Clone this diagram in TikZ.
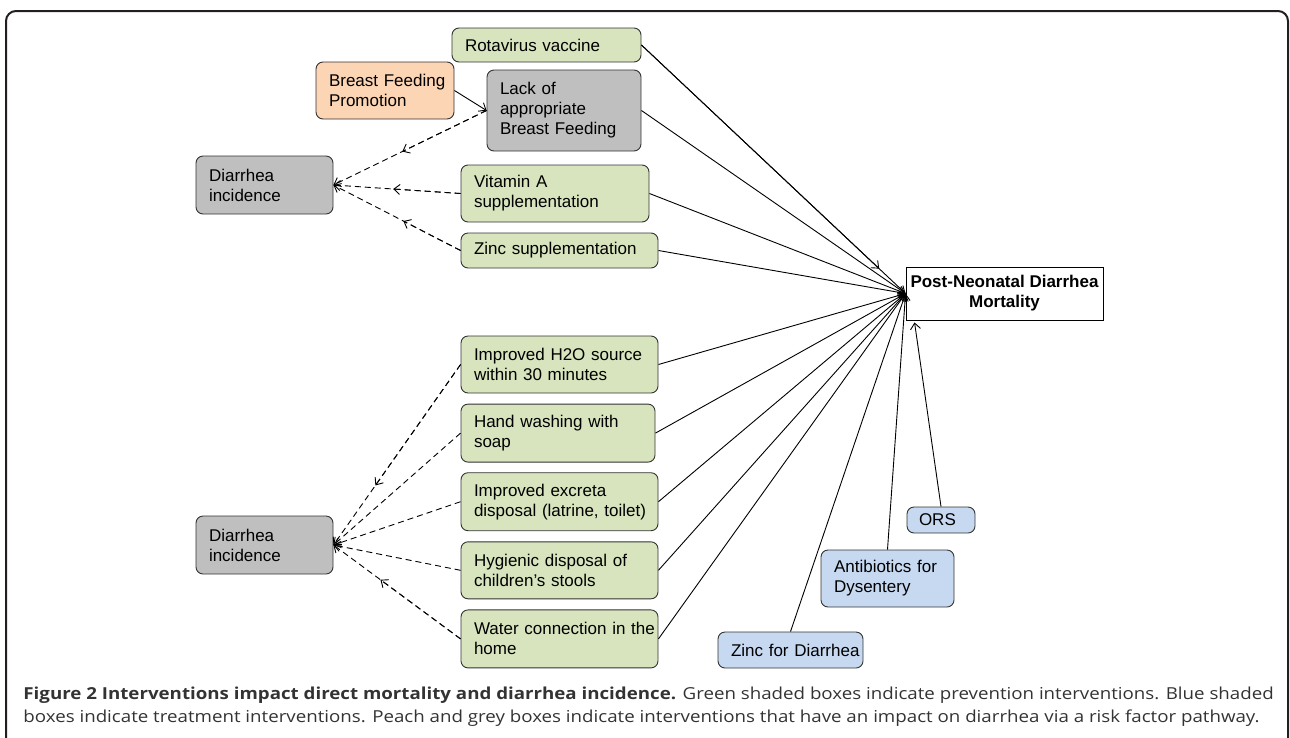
\documentclass[tikz,border=0pt]{standalone}
\usepackage{fontspec}
\setmainfont{Liberation Sans}
\newfontfamily\capfont{Open Sans}
\usetikzlibrary{arrows.meta}
\definecolor{prevc}{HTML}{D7E4BD}
\definecolor{treatc}{HTML}{C6D9F1}
\definecolor{riskc}{HTML}{FCD5B5}
\definecolor{greyc}{HTML}{BFBFBF}
\definecolor{framec}{HTML}{231F20}

\begin{document}
\begin{tikzpicture}[x=1pt, y=-1pt, line width=0.9pt, >={Straight Barb[length=6pt,width=10pt]},
  box/.style={draw=black!80, rounded corners=7pt, align=left, inner xsep=13pt, inner ysep=0pt, font=\fontsize{17}{20}\selectfont},
  prev/.style={box, fill=prevc},
  treat/.style={box, fill=treatc},
  risk/.style={box, fill=riskc},
  grey/.style={box, fill=greyc},
  dep/.style={dash pattern=on 6pt off 4pt},
  capline/.style={anchor=base west, inner sep=0pt, text=black!80, font=\capfont\fontsize{16.5}{18}\selectfont}]

    \useasboundingbox (0,0) rectangle (1290,737);
    \draw[framec, line width=2pt, rounded corners=10pt] (6,11) rectangle (1288,780);

    \node[draw, fill=white, align=center, minimum width=197pt, minimum height=53pt, inner sep=0pt, font=\fontsize{17}{20}\selectfont\bfseries] (post) at (1004.5,293.5) {Post-Neonatal Diarrhea\\Mortality};

    \node[grey, text width=111pt, minimum height=58pt] (dtop) at (264.5,185) {Diarrhea\\incidence};
    \node[grey, text width=111pt, minimum height=58pt, below of=dtop, node distance=360pt] (dbot) {Diarrhea\\incidence};

    \node[prev, text width=163pt, minimum height=34pt] (rota) at (546.5,45) {Rotavirus vaccine};
    \node[grey, text width=128pt, minimum height=81pt] (lack) at (564,110.5) {Lack of\\appropriate\\Breast Feeding};
    \node[risk, text width=112pt, minimum height=57pt, left of=lack, node distance=179pt, yshift=20pt] (bfp) {\mbox{Breast Feeding}\\Promotion};
    \node[prev, text width=162pt, minimum height=57pt] (vita) at (555,193.5) {Vitamin A\\supplementation};
    \node[prev, text width=171pt, minimum height=35pt] (zincs) at (559.5,250.5) {Zinc supplementation};

    \node[prev, text width=171pt, minimum height=57pt] (h2o) at (559.5,364.5) {Improved H2O source\\within 30 minutes};
    \node[prev, text width=168pt, minimum height=58pt, below of=h2o, node distance=68.6pt, xshift=-1.5pt] (hand) {Hand washing with\\soap};
    \node[prev, text width=171pt, minimum height=58pt, below of=h2o, node distance=137.2pt] (excr) {Improved excreta\\\mbox{disposal (latrine, toilet)}};
    \node[prev, text width=171pt, minimum height=57pt, below of=excr, node distance=68.6pt] (hyg) {Hygienic disposal of\\children’s stools};
    \node[prev, text width=171pt, minimum height=58pt, below of=hyg, node distance=68.6pt] (water) {\mbox{Water connection in the}\\home};

    \node[treat, text width=44pt, minimum height=26pt, inner xsep=12pt] (ors) at (941,520) {ORS};
    \node[treat, text width=107pt, minimum height=57pt] (abx) at (887.5,578.5) {Antibiotics for\\Dysentery};
    \node[treat, text width=119pt, minimum height=36pt] (zincd) at (790.5,650) {\mbox{Zinc for Diarrhea}};
    \coordinate (orsin) at ([xshift=9pt, yshift=-2pt]post.south west);

    % pathway via risk factor
    \draw[->] (bfp.east) -- (lack.west);
    \draw[dep, ->] (lack.west) -- node[coordinate, pos=0.55] (m1) {} (dtop.east);
    \draw[dep, ->] (lack.west) -- (m1);
    \draw[dep, ->] (vita.west) -- node[coordinate, pos=0.53] (m2) {} (dtop.east);
    \draw[dep, ->] (vita.west) -- (m2);
    \draw[dep, ->] (zincs.west) -- node[coordinate, pos=0.45] (m3) {} (dtop.east);
    \draw[dep, ->] (zincs.west) -- (m3);
    \draw[dep, ->] (h2o.west) -- node[coordinate, pos=0.67] (m4) {} (dbot.east);
    \draw[dep, ->] (h2o.west) -- (m4);
    \draw[dep, ->] (hand.west) -- (dbot.east);
    \draw[dep, ->] (excr.west) -- (dbot.east);
    \draw[dep, ->] (hyg.west) -- (dbot.east);
    \draw[dep, ->] (water.west) -- node[coordinate, pos=0.63] (m5) {} (dbot.east);
    \draw[dep, ->] (water.west) -- (m5);

    % direct effect on mortality
    \draw (rota.east) -- node[coordinate, pos=0.9] (m0) {} (post.west);
    \draw[->] (rota.east) -- (m0);
    \draw[->] (lack.east) -- (post.west);
    \draw[->] (vita.east) -- (post.west);
    \draw[->] (zincs.east) -- (post.west);
    \draw[->] (h2o.east) -- (post.west);
    \draw[->] (hand.east) -- (post.west);
    \draw[->] (excr.east) -- (post.west);
    \draw[->] (hyg.east) -- (post.west);
    \draw[->] (water.east) -- (post.west);
    \draw[->] (zincd.north) -- (post.west);
    \draw[->] (abx.north) -- (post.west);
    \draw[->] (ors.north) -- (orsin);

    \node[capline] (cap1) at (23,699) {\scalebox{1.134}[1]{\textbf{Figure 2 Interventions impact direct mortality and diarrhea incidence.} Green shaded boxes indicate prevention interventions. Blue shaded}};
    \node[capline] (cap2) at (23,722) {\scalebox{1.134}[1]{boxes indicate treatment interventions. Peach and grey boxes indicate interventions that have an impact on diarrhea via a risk factor pathway.}};

  \end{tikzpicture}
\end{document}
